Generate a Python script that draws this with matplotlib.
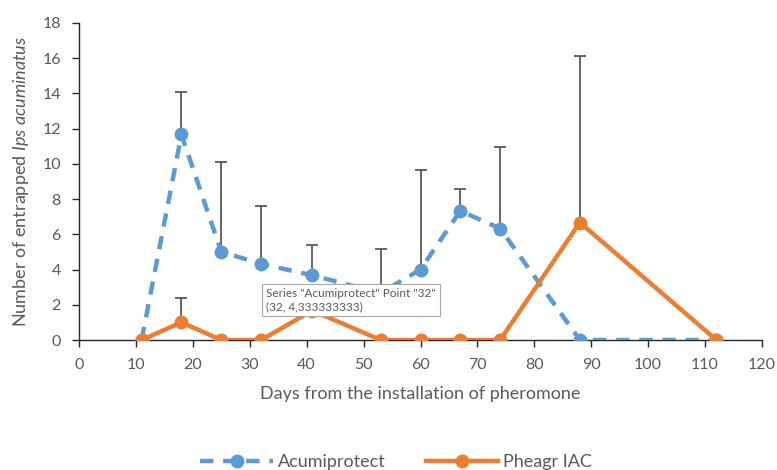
import numpy as np
import matplotlib
matplotlib.use("Agg")
import matplotlib.pyplot as plt

plt.rcParams['font.family'] = ['Lato', 'DejaVu Sans']
plt.rcParams['mathtext.fontset'] = 'custom'
plt.rcParams['mathtext.rm'] = 'Lato'
plt.rcParams['mathtext.it'] = 'Lato:italic'

days = [11, 18, 25, 32, 41, 53, 60, 67, 74, 88, 112]
acumiprotect = [0, 11.67, 5.0, 4.33, 3.67, 2.67, 4.0, 7.33, 6.33, 0, 0]
acumiprotect_err = [0, 2.4, 5.1, 3.27, 1.7, 2.5, 5.67, 1.27, 4.63, 0, 0]
pheagr = [0, 1.0, 0, 0, 1.67, 0, 0, 0, 0, 6.67, 0]
pheagr_err = [0, 1.4, 0, 0, 0, 0, 0, 0, 0, 9.43, 0]

blue = '#5B9BD5'
orange = '#ED7D31'
grey = '#595959'

fig = plt.figure(figsize=(7.77, 4.70), dpi=100)
ax = fig.add_axes([79 / 777, 1 - 340 / 470, (762 - 79) / 777, (340 - 23) / 470])

zeros = np.zeros(len(days))
ax.errorbar(days, acumiprotect, yerr=[zeros, acumiprotect_err], fmt='none',
            ecolor=grey, elinewidth=1.3, capsize=4, capthick=1.3, zorder=2)
ax.errorbar(days, pheagr, yerr=[zeros, pheagr_err], fmt='none',
            ecolor=grey, elinewidth=1.3, capsize=4, capthick=1.3, zorder=2)

ax.plot(days, acumiprotect, color=blue, lw=3.2, ls=(0, (3, 2.2)), marker='o',
        ms=9, label='Acumiprotect', zorder=3)
ax.plot(days, pheagr, color=orange, lw=3.2, marker='o', ms=9,
        label='Pheagr IAC', zorder=4)

ax.set_xlim(0, 120)
ax.set_ylim(0, 18)
ax.set_xticks(np.arange(0, 121, 10))
ax.set_yticks(np.arange(0, 19, 2))
for s in ['top', 'right']:
    ax.spines[s].set_visible(False)
for s in ['left', 'bottom']:
    ax.spines[s].set_color('#262626')
    ax.spines[s].set_linewidth(1.0)
ax.tick_params(axis='both', direction='out', length=5, width=1.0,
               color='#262626', labelcolor=grey, labelsize=11.5, pad=8)
ax.spines['bottom'].set_zorder(1)

ax.set_xlabel('Days from the installation of pheromone', fontsize=13,
              color=grey, labelpad=10)
ax.set_ylabel('Number of entrapped $\\mathit{Ips\\ acuminatus}$', fontsize=13,
              color=grey, labelpad=8)

# hover tooltip captured in the screenshot
ax.text(32.9, 2.95, 'Series "Acumiprotect" Point "32"\n(32, 4,333333333)',
        fontsize=8.5, color=grey, va='top', ha='left', zorder=6,
        bbox=dict(boxstyle='square,pad=0.35', fc='white', ec='#a6a6a6', lw=0.8))

fig.legend(loc='center', bbox_to_anchor=(0.51, 1 - 462 / 470), ncol=2,
           frameon=False, fontsize=13, handlelength=4, columnspacing=2.2,
           handletextpad=0.3, labelcolor=grey)

fig.savefig('out.png', dpi=100)
